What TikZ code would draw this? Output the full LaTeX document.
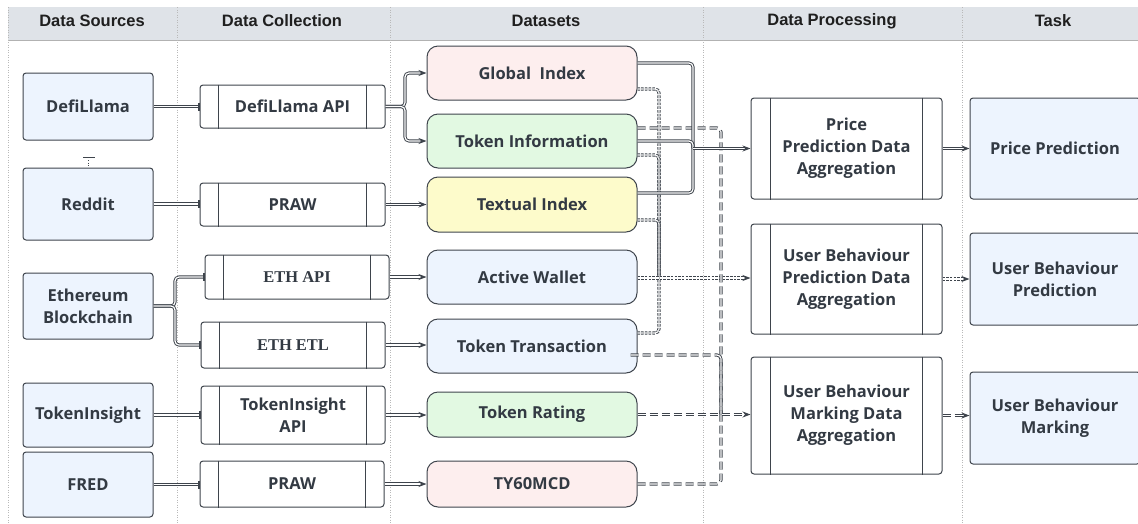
\documentclass[tikz,border=0pt]{standalone}
\usepackage{fontspec}
\setmainfont{Open Sans}
\newfontfamily\hdrfont{Liberation Sans}
\newfontfamily\serffont{Liberation Serif}
\usetikzlibrary{arrows.meta}
\definecolor{edge}{HTML}{3E444C}
\definecolor{txt}{HTML}{333A43}
\definecolor{hdr}{HTML}{DFE3E8}
\definecolor{bluef}{HTML}{EDF4FE}
\definecolor{pinkf}{HTML}{FDEEEE}
\definecolor{greenf}{HTML}{E2F9E2}
\definecolor{yellowf}{HTML}{FDFBCB}
\tikzset{
  x=1pt,y=-1pt,
  nfont/.style={font=\fontsize{16.5}{22}\selectfont\bfseries},
  base/.style={draw=edge, line width=1pt, align=center, text=txt, inner sep=0pt, nfont},
  srcbox/.style={base, fill=bluef, rounded corners=3pt},
  colbox/.style={base, fill=white, rounded corners=3pt},
  dsbox/.style={base, rounded corners=11pt},
  hdrtext/.style={font=\hdrfont\fontsize{16.5}{18}\selectfont\bfseries, text=black!88},
  dl/.style={draw=edge, line width=0.95pt, double=white, double distance=1.2pt, rounded corners=4pt},
  dotl/.style={dl, dash pattern=on 2.5pt off 1.2pt},
  dashl/.style={dl, dash pattern=on 8pt off 4pt},
  tip/.style={-{Stealth[length=8pt,width=6pt]}},
  bar/.style={-{Bar[width=8pt,line width=1.6pt]}},
}
\newcommand{\sidebars}[2]{%
  \draw[edge, line width=1pt] ([xshift=#2]#1.north west) -- ([xshift=#2]#1.south west);
  \draw[edge, line width=1pt] ([xshift=-#2]#1.north east) -- ([xshift=-#2]#1.south east);}
\begin{document}
\begin{tikzpicture}
\useasboundingbox (0,0) rectangle (1138,523);
% header
\fill[hdr] (8,7) rectangle (1138,40);
\draw[gray!60, line width=0.4pt] (8,40) -- (1138,40);
\foreach \xx in {8,177,390,703,962}{
  \draw[gray!55, line width=0.5pt, dotted] (\xx,7) -- (\xx,523);
}
\node[hdrtext] (h1) at (92,21) {Data Sources};
\node[hdrtext] (h2) at (282,21) {Data Collection};
\node[hdrtext] (h3) at (546,21) {Datasets};
\node[hdrtext] (h4) at (832,21) {Data Processing};
\node[hdrtext] (h5) at (1053,21) {Task};

% sources
\node[srcbox, minimum width=130, minimum height=67] (defi) at (88,106.5) {DefiLlama};
\node[srcbox, minimum width=130, minimum height=72] (reddit) at (88,204) {Reddit};
\node[srcbox, minimum width=130, minimum height=66] (eth) at (88,306) {Ethereum\\Blockchain};
\node[srcbox, minimum width=130, minimum height=64] (tins) at (88,415) {TokenInsight};
\node[srcbox, minimum width=130, minimum height=65] (fred) at (88,484.5) {FRED};
\draw[edge, line width=0.8pt] (83,157) -- (95,157);
\draw[edge, line width=0.6pt, dotted] (88,160) -- (88,167);

% collection
\node[colbox, minimum width=185, minimum height=43] (dapi) at (292.5,106.5) {DefiLlama API};
\node[colbox, minimum width=185, minimum height=43] (praw1) at (292.5,204.5) {PRAW};
\node[colbox, minimum width=184, minimum height=44] (ethapi) at (297,277) {\serffont ETH API};
\node[colbox, minimum width=184, minimum height=46] (ethetl) at (293,345) {\serffont ETH ETL};
\node[colbox, minimum width=184, minimum height=58] (tiapi) at (293,415) {TokenInsight\\API};
\node[colbox, minimum width=184, minimum height=46] (praw2) at (292,484) {PRAW};
\sidebars{dapi}{19pt}
\sidebars{praw1}{19pt}
\sidebars{ethapi}{19pt}
\sidebars{ethetl}{19pt}
\sidebars{tiapi}{19pt}
\sidebars{praw2}{19pt}

% datasets
\node[dsbox, fill=pinkf, minimum width=210, minimum height=54] (gidx) at (532,73) {Global\ \ Index};
\node[dsbox, fill=greenf, minimum width=210, minimum height=54] (tinfo) at (532,141) {Token Information};
\node[dsbox, fill=yellowf, minimum width=210, minimum height=55] (txti) at (532,204.5) {Textual Index};
\node[dsbox, fill=bluef, minimum width=210, minimum height=54] (aw) at (532,277) {Active Wallet};
\node[dsbox, fill=bluef, minimum width=210, minimum height=54] (ttx) at (532,346) {Token Transaction};
\node[dsbox, fill=greenf, minimum width=210, minimum height=45] (trate) at (532,414.5) {Token Rating};
\node[dsbox, fill=pinkf, minimum width=210, minimum height=46] (ty) at (532,484) {TY60MCD};

% processing
\node[colbox, minimum width=191, minimum height=101] (ppa) at (846.5,148.5) {Price\\Prediction Data\\Aggregation};
\node[colbox, minimum width=191, minimum height=110] (ubpa) at (846.5,279) {User Behaviour\\Prediction Data\\Aggregation};
\node[colbox, minimum width=191, minimum height=117] (ubma) at (846.5,415.5) {User Behaviour\\Marking Data\\Aggregation};
\sidebars{ppa}{20pt}
\sidebars{ubpa}{20pt}
\sidebars{ubma}{20pt}

% tasks
\node[srcbox, minimum width=170, minimum height=101] (pp) at (1055,148.5) {Price Prediction};
\node[srcbox, minimum width=170, minimum height=92] (ubp) at (1055,279) {User Behaviour\\Prediction};
\node[srcbox, minimum width=170, minimum height=92] (ubm) at (1055,418) {User Behaviour\\Marking};

% source -> collection
\draw[dl, bar] (defi.east) -- (defi.east -| dapi.west);
\draw[dl, bar] (reddit.east) -- (reddit.east -| praw1.west);
\coordinate (ebr) at (175,306);
\draw[dl, bar] (eth.east) -- (ebr) |- (ethapi.west);
\draw[dl, bar] (eth.east) -- (ebr) |- (ethetl.west);
\draw[dl, bar] (tins.east) -- (tins.east -| tiapi.west);
\draw[dl, bar] (fred.east) -- (fred.east -| praw2.west);

% collection -> datasets
\coordinate (dbr) at (405,106.5);
\draw[dl, tip] (dapi.east) -- (dbr) |- (gidx.west);
\draw[dl, tip] (dapi.east) -- (dbr) |- (tinfo.west);
\draw[dl, tip] (praw1.east) -- (praw1.east -| txti.west);
\draw[dl, tip] (ethapi.east) -- (ethapi.east -| aw.west);
\draw[dl, tip] (ethetl.east) -- (ethetl.east -| ttx.west);
\draw[dl, tip] (tiapi.east) -- (tiapi.east -| trate.west);
\draw[dl, tip] (praw2.east) -- (praw2.east -| ty.west);

% dotted -> user behaviour prediction
\coordinate (v1) at (659,278);
\draw[dotl] ([yshift=-16pt]gidx.east) -| (v1);
\draw[dotl] ([yshift=-14pt]tinfo.east) -| (v1);
\draw[dotl] ([yshift=-15.5pt]txti.east) -| (v1);
\draw[dotl] ([yshift=13pt]ttx.east) -| (v1);
\draw[dotl, tip] ([yshift=-1pt]aw.east) -- ([yshift=-1pt]aw.east -| ubpa.west);

% dashed -> user behaviour marking
\coordinate (v2) at (721,414.5);
\draw[dashl] ([yshift=13pt]tinfo.east) -| (v2);
\draw[dashl] ([xshift=-7pt,yshift=-9pt]ttx.east) -| (v2);
\draw[dashl] (ty.east) -| (v2);
\draw[dashl, tip] (trate.east) -- (trate.east -| ubma.west);

% solid -> price prediction aggregation
\coordinate (m1) at (693,148.5);
\draw[dl] ([yshift=10pt]gidx.east) -| (m1);
\draw[dl] (tinfo.east) -| (m1);
\draw[dl] ([yshift=11.5pt]txti.east) -| (m1);
\draw[dl, tip] (m1) -- (ppa.west);

% processing -> tasks
\draw[dl, tip] (ppa.east) -- (pp.west);
\draw[dotl, tip] (ubpa.east) -- (ubp.west);
\draw[dashl, tip] (ubma.east) -- (ubma.east -| ubm.west);
\end{tikzpicture}
\end{document}
